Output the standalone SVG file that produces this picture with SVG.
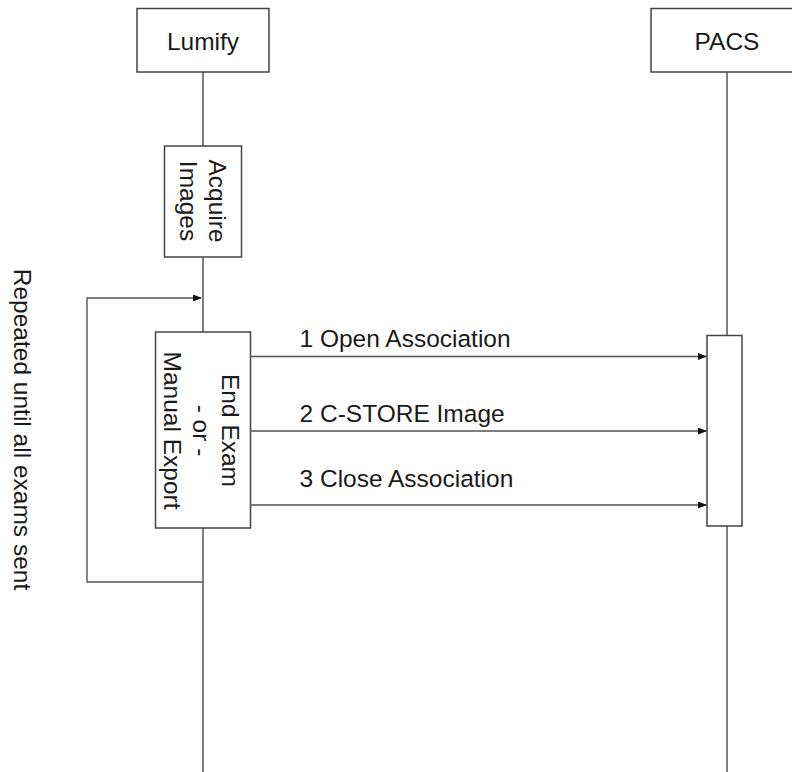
<svg xmlns="http://www.w3.org/2000/svg" width="792" height="772" viewBox="0 0 792 772">
<style>
text{font-family:"Liberation Sans",Arial,sans-serif;font-size:24.5px;fill:#1a1a1a}
.box{fill:#fff;stroke:#444;stroke-width:1.5}
.ll{stroke:#555;stroke-width:1.5;fill:none}
.msg{stroke:#555;stroke-width:1.4;fill:none;marker-end:url(#ah)}
</style>
<defs>
<marker id="ah" markerWidth="9" markerHeight="7" refX="8" refY="3.5" orient="auto" markerUnits="userSpaceOnUse">
<path d="M0,0 L9,3.5 L0,7 z" fill="#111"/>
</marker>
</defs>
<rect width="792" height="772" fill="#fff"/>
<g id="lifelines">
<line class="ll" x1="203" y1="72" x2="203" y2="772"/>
<line class="ll" x1="727" y1="72" x2="727" y2="772"/>
</g>
<g id="lumify">
<rect class="box" x="137" y="8.5" width="132" height="63.5"/>
<text x="203" y="50" text-anchor="middle">Lumify</text>
</g>
<g id="pacs">
<rect class="box" x="651" y="8.5" width="160" height="63.5"/>
<text x="727" y="50" text-anchor="middle">PACS</text>
</g>
<g id="acquire">
<rect class="box" x="164.5" y="146" width="77" height="111"/>
<text transform="translate(209,201) rotate(90)" text-anchor="middle"><tspan x="0" y="0">Acquire</tspan><tspan x="0" y="29">Images</tspan></text>
</g>
<g id="endexam">
<rect class="box" x="155.5" y="332" width="95" height="196"/>
<text transform="translate(222,430.5) rotate(90)" text-anchor="middle"><tspan x="0" y="0">End Exam</tspan><tspan x="0" y="29">- or -</tspan><tspan x="0" y="58">Manual Export</tspan></text>
</g>
<g id="pacs-activation">
<rect class="box" x="707" y="335.5" width="35" height="190.5"/>
</g>
<g id="connectors">
<polyline class="msg" points="203,582 87,582 87,298 201,298"/>
<line class="msg" x1="250" y1="356.5" x2="706" y2="356.5"/>
<line class="msg" x1="250" y1="431" x2="706" y2="431"/>
<line class="msg" x1="250" y1="505" x2="706" y2="505"/>
</g>
<g id="labels">
<text x="299.5" y="346.5">1 Open Association</text>
<text x="299.5" y="421.5">2 C-STORE Image</text>
<text x="299.5" y="487">3 Close Association</text>
<text transform="translate(13.5,429.5) rotate(90)" text-anchor="middle">Repeated until all exams sent</text>
</g>
</svg>
